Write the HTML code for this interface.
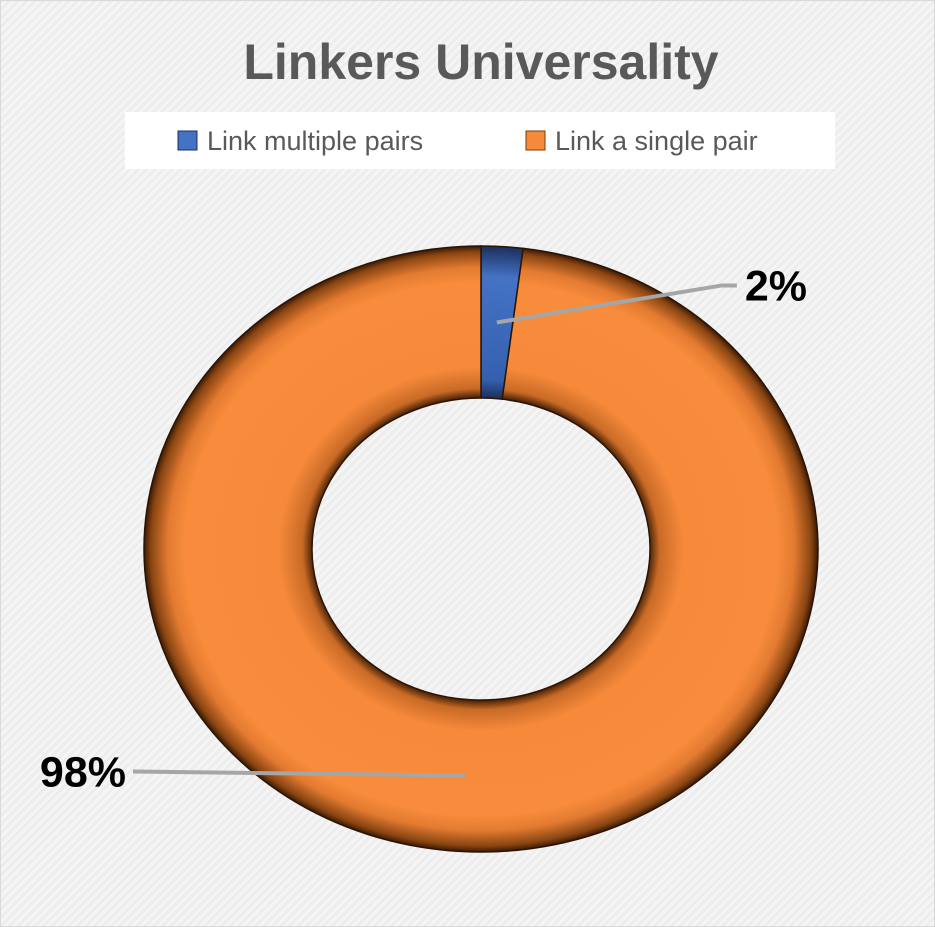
<!DOCTYPE html>
<html><head><meta charset="utf-8"><style>
html,body{margin:0;padding:0;background:#fff}
#chart{position:relative;width:935px;height:927px;background:#f2f2f2;font-family:"Liberation Sans",sans-serif;overflow:hidden}
</style></head><body>
<div id="chart">
<svg id="svg" width="935" height="927" viewBox="0 0 935 927">
<defs>
<pattern id="hatch" width="6" height="6" patternUnits="userSpaceOnUse" patternTransform="rotate(45)">
<rect width="6" height="6" fill="#f5f5f5"/><rect width="3" height="6" fill="#ededed"/></pattern>
<radialGradient id="og" gradientUnits="userSpaceOnUse" cx="481" cy="549" r="337" gradientTransform="translate(481 549) scale(1 0.899) translate(-481 -549)">
<stop offset="0.5" stop-color="#4a2206"/><stop offset="0.53" stop-color="#c86a26"/>
<stop offset="0.6" stop-color="#f6893a"/><stop offset="0.88" stop-color="#f88c3c"/>
<stop offset="0.93" stop-color="#e27a30"/><stop offset="0.98" stop-color="#8a4512"/><stop offset="1" stop-color="#3a1a05"/></radialGradient>
<radialGradient id="bg" gradientUnits="userSpaceOnUse" cx="481" cy="549" r="337" gradientTransform="translate(481 549) scale(1 0.899) translate(-481 -549)">
<stop offset="0.5" stop-color="#1c2f5c"/><stop offset="0.56" stop-color="#3560b0"/>
<stop offset="0.9" stop-color="#4472c4"/><stop offset="1" stop-color="#1c2f5c"/></radialGradient>
</defs>
<rect x="0" y="0" width="935" height="927" fill="url(#hatch)"/>
<rect x="0.5" y="0.5" width="934" height="926" fill="none" stroke="#d9d9d9"/>
<text x="481" y="79" text-anchor="middle" font-size="50" font-weight="bold" fill="#595959">Linkers Universality</text>
<rect x="125" y="112" width="710" height="57" fill="#ffffff"/>
<g>
<rect x="178" y="131" width="19" height="19" fill="#4472c4" stroke="#1c2f5c" stroke-width="1"/>
<text x="207" y="150" font-size="27" fill="#595959">Link multiple pairs</text></g>
<g>
<rect x="526" y="131" width="19" height="19" fill="#f6893a" stroke="#7a3a10" stroke-width="1"/>
<text x="555" y="150" font-size="27" fill="#595959">Link a single pair</text></g>
<g id="slices"></g>
<g id="labels"></g>
</svg>
</div>
<script>
const categories = ["Link multiple pairs", "Link a single pair"];
const values = [2, 98];
const valueLabels = ["2%", "98%"];
const cx = 481, cy = 549, rxO = 337, ryO = 303, rxI = 169, ryI = 151;
const fills = ["url(#bg)", "url(#og)"];
const NS = "http://www.w3.org/2000/svg";
const total = values.reduce((a, b) => a + b, 0);
function pt(rx, ry, a) { return [cx + rx * Math.sin(a), cy - ry * Math.cos(a)]; }
const sl = document.getElementById('slices');
const lb = document.getElementById('labels');
let acc = 0;
values.forEach((v, i) => {
  const a0 = acc / total * 2 * Math.PI;
  acc += v;
  const a1 = acc / total * 2 * Math.PI;
  const large = (a1 - a0) > Math.PI ? 1 : 0;
  const p0 = pt(rxO, ryO, a0), p1 = pt(rxO, ryO, a1), q1 = pt(rxI, ryI, a1), q0 = pt(rxI, ryI, a0);
  const d = `M${p0} A${rxO} ${ryO} 0 ${large} 1 ${p1} L${q1} A${rxI} ${ryI} 0 ${large} 0 ${q0} Z`;
  const g = document.createElementNS(NS, 'path');
  g.setAttribute('d', d);
  g.setAttribute('fill', fills[i]);
  g.setAttribute('stroke', '#2a1405');
  g.setAttribute('stroke-width', '1.5');
  
  
  sl.appendChild(g);
  const am = (a0 + a1) / 2;
  const anchor = pt((rxO + rxI) / 2, (ryO + ryI) / 2, am);
  let lx, ly, tx, anchorText;
  if (Math.sin(am) >= 0) { lx = anchor[0] + 240; ly = anchor[1] - 37; tx = lx + 8; anchorText = 'start'; }
  else { lx = 133; ly = anchor[1] - 4; tx = 126; anchorText = 'end'; }
  const ln = document.createElementNS(NS, 'polyline');
  const pts = Math.sin(am) >= 0 ? `${anchor} ${lx - 15},${ly} ${lx},${ly}` : `${anchor} ${lx},${ly}`;
  ln.setAttribute('points', pts);
  ln.setAttribute('fill', 'none');
  ln.setAttribute('stroke', '#a6a6a6');
  ln.setAttribute('stroke-width', '4');
  
  
  lb.appendChild(ln);
  const t = document.createElementNS(NS, 'text');
  t.setAttribute('x', tx);
  t.setAttribute('y', ly + 15);
  t.setAttribute('text-anchor', anchorText);
  t.setAttribute('font-size', '43');
  t.setAttribute('font-weight', 'bold');
  t.setAttribute('fill', '#000');
  t.textContent = valueLabels[i];
  
  
  lb.appendChild(t);
});
</script>
</body></html>
